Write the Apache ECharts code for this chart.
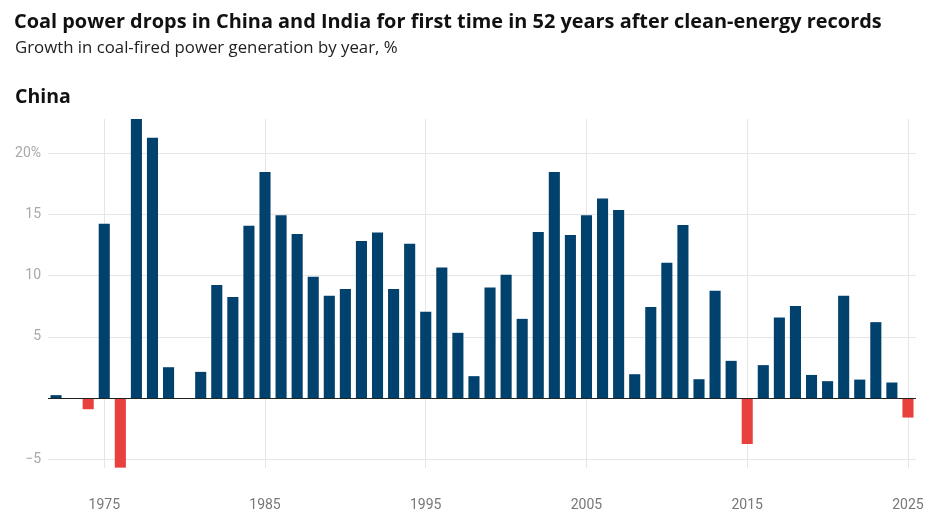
<!DOCTYPE html>
<html>
<head>
<meta charset="utf-8">
<script src="https://cdn.jsdelivr.net/npm/echarts@6/dist/echarts.min.js"></script>
<style>
html,body{margin:0;padding:0;background:#fff;}
#chart{width:950px;height:516px;}
</style>
</head>
<body>
<div id="chart"></div>
<script>
const years = [];
for (let y = 1972; y <= 2025; y++) years.push(String(y));

const growth = [
  0.25, 0, -0.9, 14.25, -5.67, 22.8, 21.26, 2.53, 0, 2.15,
  9.24, 8.26, 14.09, 18.48, 14.93, 13.41, 9.92, 8.36, 8.91, 12.84,
  13.54, 8.91, 12.62, 7.06, 10.68, 5.34, 1.8, 9.05, 10.08, 6.48,
  13.57, 18.48, 13.32, 14.93, 16.3, 15.37, 1.96, 7.44, 11.06, 14.14,
  1.55, 8.77, 3.05, -3.74, 2.7, 6.59, 7.52, 1.9, 1.39, 8.36,
  1.52, 6.21, 1.28, -1.58
];

const xTickYears = ['1975', '1985', '1995', '2005', '2015', '2025'];
const yTicks = [-5, 5, 10, 15, 20];

const titleText = 'Coal power drops in China and India for first time in 52 years after clean-energy records';
const subtitleText = 'Growth in coal-fired power generation by year, %';
const panelText = 'China';

const BLUE = '#00416e';
const RED = '#e8403d';

const chart = echarts.init(document.getElementById('chart'));
chart.setOption({
  backgroundColor: '#ffffff',
  animation: false,
  title: [
    { text: titleText, left: 14, top: 12, padding: 0,
      textStyle: { fontFamily: 'Open Sans', fontWeight: 'bold', fontSize: 19.9, color: '#111' } },
    { text: subtitleText, left: 15, top: 40, padding: 0,
      textStyle: { fontFamily: 'Open Sans', fontWeight: 'normal', fontSize: 16.8, color: '#222' } },
    { text: panelText, left: 15, top: 87, padding: 0,
      textStyle: { fontFamily: 'Open Sans', fontWeight: 'bold', fontSize: 19.5, color: '#111' } }
  ],
  grid: { left: 48, right: 34, top: 119, bottom: 48, containLabel: false },
  xAxis: {
    type: 'category',
    data: years,
    boundaryGap: true,
    axisLine: { show: false, onZero: false },
    axisTick: { show: false },
    axisLabel: {
      interval: (i, v) => xTickYears.indexOf(v) >= 0,
      margin: 30,
      color: '#777',
      fontFamily: 'Roboto',
      fontSize: 14
    },
    splitLine: {
      show: true,
      alignWithLabel: true,
      interval: (i, v) => xTickYears.indexOf(v) >= 0,
      lineStyle: { color: '#e6e6e6', width: 1 }
    }
  },
  yAxis: {
    type: 'value',
    min: -5.7,
    max: 22.8,
    splitNumber: 5,
    axisLine: { show: false },
    axisTick: { show: false },
    axisLabel: {
      showMinLabel: false,
      showMaxLabel: false,
      margin: 7,
      color: '#a8a8a8',
      fontFamily: 'Roboto',
      fontSize: 14,
      formatter: v => {
        if (yTicks.indexOf(v) < 0) return '';
        if (v === 20) return '20%';
        return v < 0 ? '\u2212' + Math.abs(v) : String(v);
      }
    },
    splitLine: {
      show: true,
      showMinLine: false,
      showMaxLine: false,
      lineStyle: { color: '#e6e6e6', width: 1 }
    }
  },
  series: [{
    type: 'bar',
    data: growth,
    barCategoryGap: '31%',
    itemStyle: { color: p => (p.value < 0 ? RED : BLUE) },
    markLine: {
      silent: true,
      symbol: 'none',
      label: { show: false },
      lineStyle: { color: '#222', width: 1.2, type: 'solid' },
      data: [{ yAxis: 0 }]
    }
  }]
});
</script>
</body>
</html>
